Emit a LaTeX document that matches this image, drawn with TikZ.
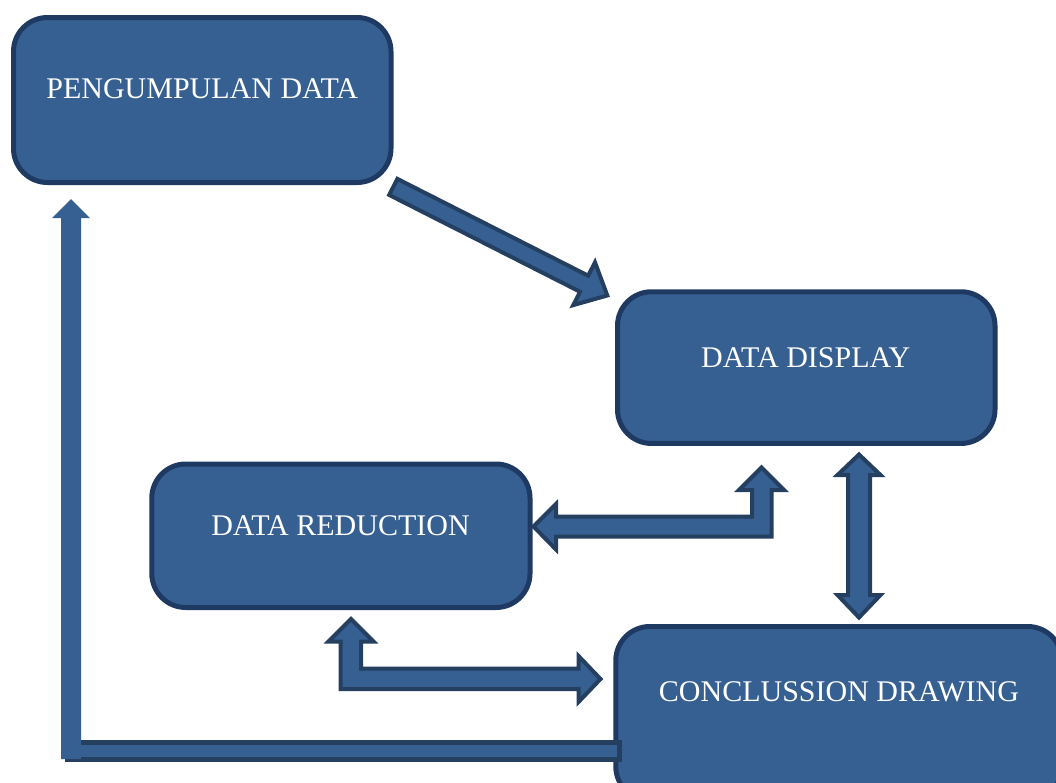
\documentclass[tikz,border=0pt]{standalone}
\usepackage{fontspec}
\setmainfont{Liberation Serif}
\definecolor{boxfill}{HTML}{376092}
\definecolor{boxline}{HTML}{1F3A62}
\definecolor{arrline}{HTML}{243F60}
\tikzset{
  box/.style={draw=boxline, fill=boxfill, line width=5pt, rounded corners=34pt,
    inner sep=0pt, rectangle},
  lbl/.style={text=white, font=\fontsize{30}{35}\selectfont, anchor=base, inner sep=0pt},
  blockarr/.style={draw=arrline, fill=boxfill, line width=4pt, line join=miter},
  plainarr/.style={fill=boxfill, draw=none},
}
\begin{document}
\begin{tikzpicture}[x=1pt,y=-1pt]
\useasboundingbox (0,0) rectangle (1056,782);
\clip (0,0) rectangle (1056,782);

% boxes
\node[box, minimum width=377.5pt, minimum height=165pt] (pd) at (202.25,100) {};
\node[box, minimum width=377.5pt, minimum height=151.7pt] (dd) at (806.25,367.6) {};
\node[box, minimum width=378.2pt, minimum height=143.5pt] (dr) at (340.9,535.75) {};
\node[box, minimum width=446pt, minimum height=174pt] (cd) at (838.8,713.5) {};

% labels
\node[lbl] (tpd) at (202.25,98.7) {PENGUMPULAN DATA};
\node[lbl] (tdd) at (805.7,367.3) {DATA DISPLAY};
\node[lbl] (tdr) at (340.5,535) {DATA REDUCTION};
\node[lbl] (tcd) at (839,701.7) {CONCLUSSION DRAWING};

% pd -> dd (diagonal block arrow)
\begin{scope}[shift={(391.5,186)}, rotate=-26.9]
  \draw[blockarr] (2,-9) -- (216,-9) -- (216,-24) -- (242,0) -- (216,24) -- (216,9) -- (2,9) -- cycle;
\end{scope}

% dd <-> dr (bent double arrow)
\draw[blockarr] (533.5,526.5) -- (556,504) -- (556,516.5) -- (752,516.5) -- (752,490)
  -- (739,490) -- (761.5,467.5) -- (784,490) -- (771.5,490) -- (771.5,536.5)
  -- (556,536.5) -- (556,549.5) -- cycle;

% dd <-> cd (vertical double arrow)
\draw[blockarr] (859,454.5) -- (837.5,475) -- (848,475) -- (848,595) -- (837.5,595)
  -- (859,617.5) -- (880.5,595) -- (870,595) -- (870,475) -- (880.5,475) -- cycle;

% dr <-> cd (bent double arrow)
\draw[blockarr] (351,619) -- (328.5,641.5) -- (340.5,641.5) -- (340.5,689) -- (578.5,689)
  -- (578.5,702) -- (600.5,679) -- (578.5,656) -- (578.5,668.5) -- (361,668.5)
  -- (361,641.5) -- (373.5,641.5) -- cycle;

% cd -> pd (feedback)
\draw[draw=arrline, fill=boxfill, line width=4.5pt] (67,742.5) rectangle (619.5,759.5);
\fill[boxfill] (61,759) -- (61,218) -- (52,218) -- (71,199) -- (90,218) -- (81,218) -- (81,759) -- cycle;
\end{tikzpicture}
\end{document}
